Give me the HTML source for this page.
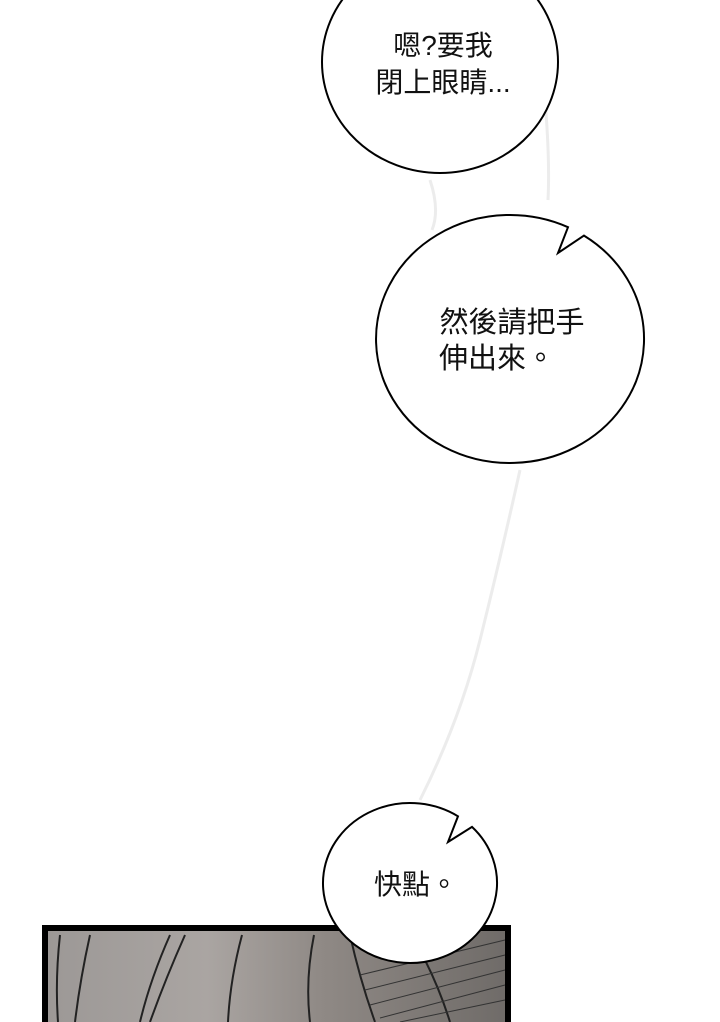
<!DOCTYPE html>
<html><head><meta charset="utf-8"><style>
html,body{margin:0;padding:0;background:#fff;}
svg{display:block}
text{font-family:"Liberation Sans","Noto Sans CJK TC",sans-serif;fill:#111;}
</style></head><body>
<svg width="720" height="1022" viewBox="0 0 720 1022" xmlns="http://www.w3.org/2000/svg">
<defs>
<linearGradient id="g" x1="0" y1="0" x2="1" y2="0">
<stop offset="0" stop-color="#9c9896"/>
<stop offset="0.35" stop-color="#aaa5a2"/>
<stop offset="0.6" stop-color="#8f8985"/>
<stop offset="1" stop-color="#6f6b68"/>
</linearGradient>
</defs>
<rect width="720" height="1022" fill="#fff"/>
<path d="M545 100 Q550 160 548 200 M430 180 Q440 210 432 230 M520 470 Q500 560 480 640 Q460 720 420 800" stroke="#ececec" stroke-width="3" fill="none"/>
<rect x="45" y="928" width="463" height="100" fill="url(#g)" stroke="#000" stroke-width="6"/>
<g stroke="#222" stroke-width="2" fill="none">
<path d="M60 935 Q55 980 58 1022"/><path d="M90 935 Q80 980 75 1022"/>
<path d="M170 935 Q150 980 140 1022"/><path d="M185 935 Q165 980 150 1022"/>
<path d="M242 935 Q230 980 228 1022"/><path d="M314 935 Q305 980 310 1022"/>
<path d="M350 935 Q360 980 375 1022"/><path d="M425 960 Q440 990 450 1022"/>
</g>
<g stroke="#333" stroke-width="1">
<path d="M360 975 L505 940 M365 990 L505 955 M370 1005 L505 970 M380 1018 L505 985 M400 1022 L505 1000"/>
</g>
<ellipse cx="440" cy="62" rx="118" ry="111" fill="#fff" stroke="#000" stroke-width="2"/>
<text x="443" y="55" font-size="28" text-anchor="middle">嗯?要我</text>
<text x="443" y="92" font-size="28" text-anchor="middle">閉上眼睛...</text>
<path d="M568 227.2 A134 124 0 1 0 584 235.6 L558 253 Z" fill="#fff" stroke="#000" stroke-width="2"/>
<text x="512" y="332" font-size="29" text-anchor="middle">然後請把手</text>
<text x="497" y="368" font-size="29" text-anchor="middle">伸出來。</text>
<path d="M458 816.3 A87 80 0 1 0 472 826.9 L448 842 Z" fill="#fff" stroke="#000" stroke-width="2"/>
<text x="416" y="894" font-size="28" text-anchor="middle">快點。</text>
</svg>
</body></html>
